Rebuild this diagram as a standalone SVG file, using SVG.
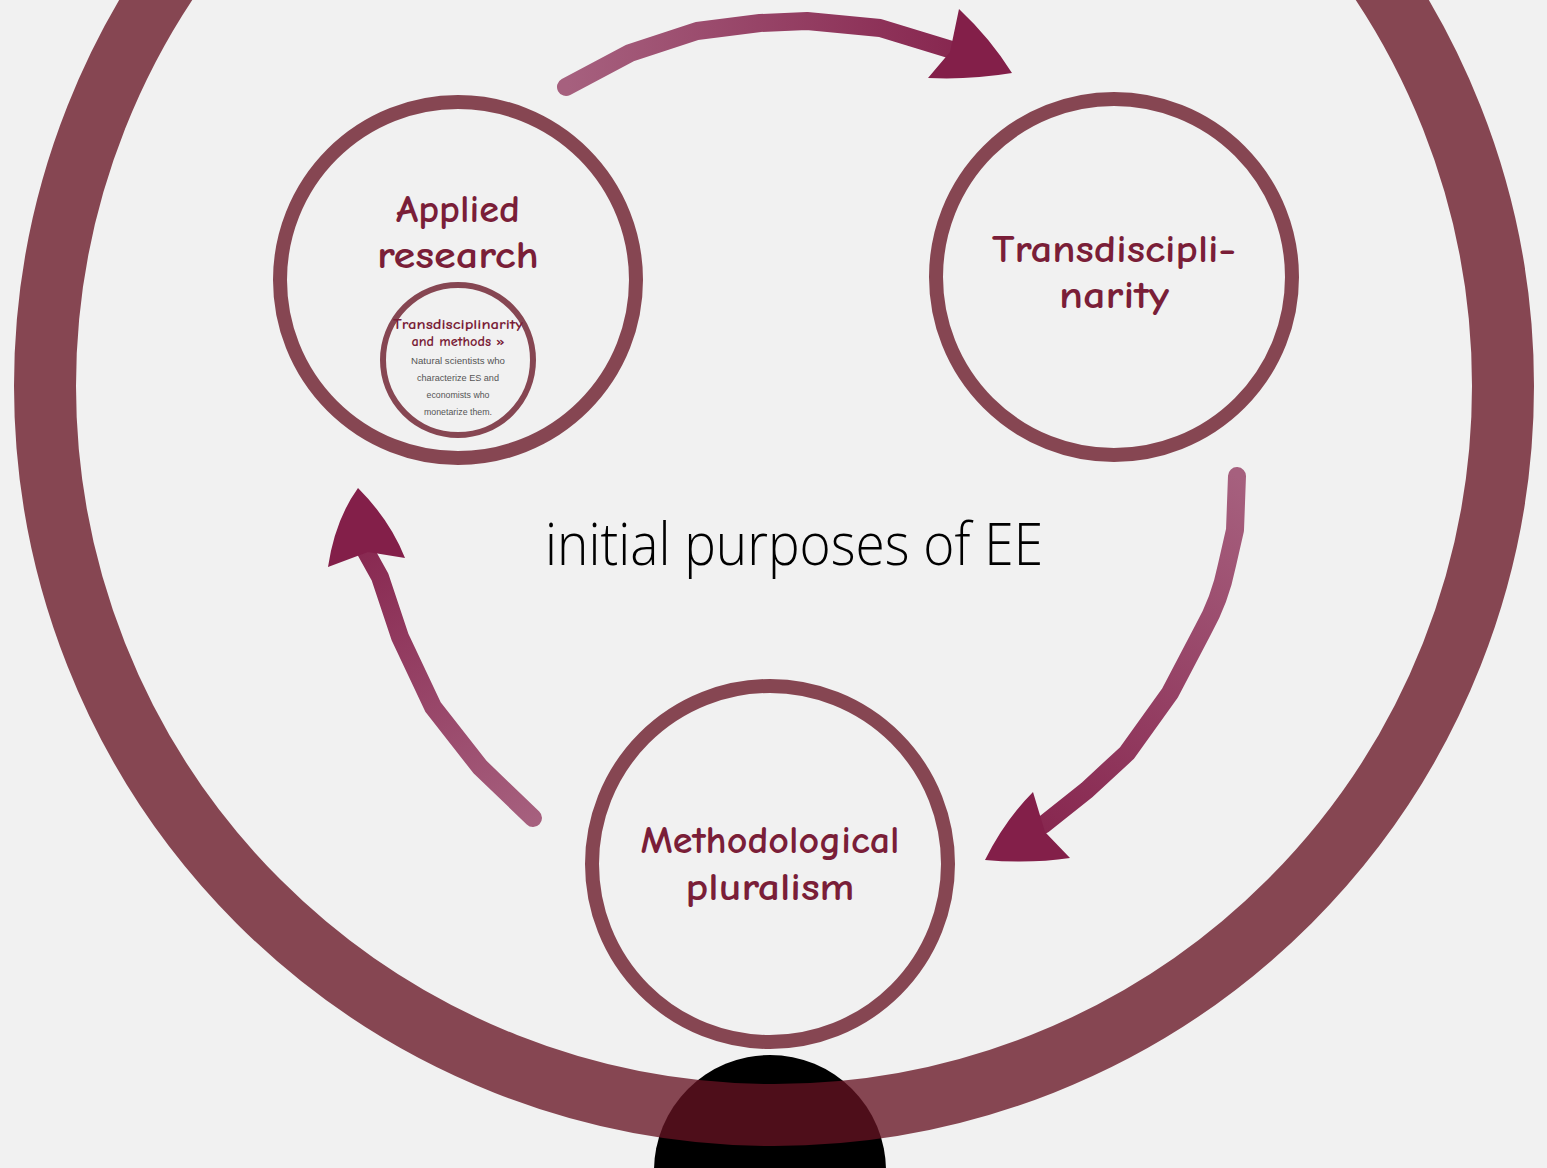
<svg xmlns="http://www.w3.org/2000/svg" width="1547" height="1168" viewBox="0 0 1547 1168">
<style>
.ring{fill:none;stroke:#651222;stroke-opacity:0.77}
.lbl{font-family:"Comic Neue","Liberation Sans",sans-serif;font-weight:bold;fill:#7A1E38;text-anchor:middle}
.sm{font-family:"Liberation Sans",sans-serif;fill:#555;text-anchor:middle;font-size:9px}
.shaft{fill:none;stroke-width:18;stroke-linejoin:round;stroke-linecap:round}
</style>
<defs>
<linearGradient id="gTop" gradientUnits="userSpaceOnUse" x1="568" y1="88" x2="1012" y2="75"><stop offset="0" stop-color="#A6607E"/><stop offset="1" stop-color="#831F49"/></linearGradient>
<linearGradient id="gRight" gradientUnits="userSpaceOnUse" x1="1237" y1="476" x2="985" y2="862"><stop offset="0" stop-color="#A6607E"/><stop offset="1" stop-color="#831F49"/></linearGradient>
<linearGradient id="gLeft" gradientUnits="userSpaceOnUse" x1="537" y1="820" x2="357" y2="488"><stop offset="0" stop-color="#A6607E"/><stop offset="1" stop-color="#831F49"/></linearGradient>
</defs>
<rect width="1547" height="1168" fill="#F1F1F1"/>
<circle cx="770" cy="1171" r="116" fill="#000"/>
<circle id="outer" class="ring" cx="774" cy="386" r="729" stroke-width="62"/>
<g id="connectors">
<path class="shaft" stroke="url(#gTop)" d="M566,87 L630,53 L697,31 L760,23 L807,21 L880,28 L952,50"/>
<path fill="#831F49" d="M959,9 Q990,38 1012,73 Q970,80 928,78 L950,52 Z"/>
<path class="shaft" stroke="url(#gRight)" d="M1237,476 L1235,530 L1227,565 Q1220,600 1203,630 L1170,693 L1127,753 L1087,790 L1043,825"/>
<path fill="#831F49" d="M1033,792 L1045,832 L1070,858 Q1030,864 985,860 Q1005,820 1033,792 Z"/>
<path class="shaft" stroke="url(#gLeft)" d="M533,818 L480,767 L433,707 L400,637 L380,577 L365,550"/>
<path fill="#831F49" d="M358,488 Q390,520 405,558 L368,552 L328,567 Q335,520 358,488 Z"/>
</g>
<g id="applied">
<circle class="ring" cx="458" cy="280" r="178" stroke-width="14"/>
<text class="lbl" x="458" y="222" font-size="38" textLength="124" lengthAdjust="spacingAndGlyphs">Applied</text>
<text class="lbl" x="458" y="268" font-size="38" textLength="162" lengthAdjust="spacingAndGlyphs">research</text>
</g>
<g id="trans-methods">
<circle class="ring" cx="458" cy="360" r="75" stroke-width="6"/>
<text class="lbl" x="458" y="329" font-size="14" textLength="130" lengthAdjust="spacingAndGlyphs">Transdisciplinarity</text>
<text class="lbl" x="458" y="346" font-size="14" textLength="93" lengthAdjust="spacingAndGlyphs">and methods »</text>
<text class="sm" x="458" y="364" textLength="94" lengthAdjust="spacingAndGlyphs">Natural scientists who</text>
<text class="sm" x="458" y="381" textLength="82" lengthAdjust="spacingAndGlyphs">characterize ES and</text>
<text class="sm" x="458" y="398" textLength="63" lengthAdjust="spacingAndGlyphs">economists who</text>
<text class="sm" x="458" y="415" textLength="68" lengthAdjust="spacingAndGlyphs">monetarize them.</text>
</g>
<g id="transdisciplinarity">
<circle class="ring" cx="1114" cy="277" r="178" stroke-width="14"/>
<text class="lbl" x="1114" y="262" font-size="38" textLength="244" lengthAdjust="spacingAndGlyphs">Transdiscipli-</text>
<text class="lbl" x="1114" y="308" font-size="38" textLength="110" lengthAdjust="spacingAndGlyphs">narity</text>
</g>
<g id="pluralism">
<circle class="ring" cx="770" cy="864" r="178" stroke-width="14"/>
<text class="lbl" x="770" y="853" font-size="38" textLength="259" lengthAdjust="spacingAndGlyphs">Methodological</text>
<text class="lbl" x="770" y="900" font-size="38" textLength="169" lengthAdjust="spacingAndGlyphs">pluralism</text>
</g>
<text id="title" x="545" y="565" font-family="'Open Sans',sans-serif" font-weight="300" font-size="58" fill="#000" textLength="498" lengthAdjust="spacingAndGlyphs">initial purposes of EE</text>
</svg>
